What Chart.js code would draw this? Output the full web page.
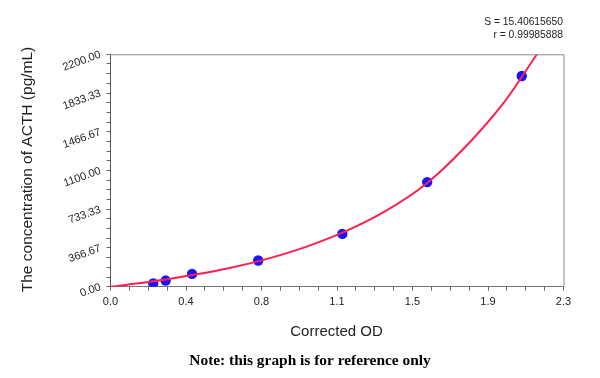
<!DOCTYPE html>
<html>
<head>
<meta charset="utf-8">
<script src="https://cdn.jsdelivr.net/npm/chart.js@4"></script>
<style>
  html, body { margin: 0; padding: 0; background: #fff; }
  #wrap { width: 600px; height: 378px; position: relative; }
</style>
</head>
<body>
<div id="wrap"><canvas id="c" width="600" height="378"></canvas></div>
<script>
// Standard points (Corrected OD vs concentration)
const standardOD = [0.217, 0.280, 0.414, 0.750, 1.177, 1.608, 2.088];
const standardConc = [30, 58, 121, 248, 500, 990, 1995];

// Fitted curve
const curveOD = [0, 0.2, 0.4, 0.6, 0.8, 1.0, 1.2, 1.4, 1.6, 1.8, 2.0, 2.165];
const curveConc = [0, 46, 106, 175, 266, 382, 530, 720, 970, 1320, 1750, 2200];

// Tick labels
const xTickLabels = ['0.0', '0.4', '0.8', '1.1', '1.5', '1.9', '2.3'];
const yTickLabels = ['0.00', '366.67', '733.33', '1100.00', '1466.67', '1833.33', '2200.00'];
const xMax = 2.3;
const yMax = 2200;
const minorPerMajor = 4;

const fitText = ['S = 15.40615650', 'r = 0.99985888'];
const xTitle = 'Corrected OD';
const yTitle = 'The concentration of ACTH (pg/mL)';
const note = 'Note: this graph is for reference only';

function makeTicks(max, labels) {
  const n = (labels.length - 1) * minorPerMajor;
  const out = [];
  for (let i = 0; i <= n; i++) out.push({ value: max * i / n });
  return out;
}

const textPlugin = {
  id: 'texts',
  afterDraw(chart) {
    const ctx = chart.ctx;
    const a = chart.chartArea;
    ctx.save();
    // plot frame (top & right)
    ctx.strokeStyle = '#8a8a8a';
    ctx.lineWidth = 1;
    ctx.beginPath();
    ctx.moveTo(a.left, a.top + 0.5);
    ctx.lineTo(a.right + 0.5, a.top + 0.5);
    ctx.lineTo(a.right + 0.5, a.bottom);
    ctx.stroke();

    ctx.fillStyle = '#222';
    ctx.font = '10.3px "Liberation Sans", Arial, sans-serif';
    ctx.textAlign = 'right';
    ctx.textBaseline = 'middle';
    ctx.fillText(fitText[0], 563, 22);
    ctx.fillText(fitText[1], 563, 35);

    ctx.font = '15px "Liberation Sans", Arial, sans-serif';
    ctx.textAlign = 'center';
    ctx.fillText(xTitle, 336.5, 331.5);

    ctx.save();
    ctx.translate(27.5, 169.5);
    ctx.rotate(-Math.PI / 2);
    ctx.font = '15.5px "Liberation Sans", Arial, sans-serif';
    ctx.fillText(yTitle, 0, 0);
    ctx.restore();

    ctx.fillStyle = '#000';
    ctx.font = 'bold 15.4px "Liberation Serif", "Times New Roman", serif';
    ctx.fillText(note, 310, 361.5);
    ctx.restore();
  }
};

new Chart(document.getElementById('c'), {
  type: 'scatter',
  data: {
    datasets: [
      {
        label: 'fit',
        data: curveOD.map((x, i) => ({ x, y: curveConc[i] })),
        showLine: true,
        borderColor: 'rgb(255, 30, 80)',
        borderWidth: 2,
        pointRadius: 0,
        cubicInterpolationMode: 'monotone',
        order: 0
      },
      {
        label: 'standards',
        data: standardOD.map((x, i) => ({ x, y: standardConc[i] })),
        backgroundColor: 'rgb(25, 20, 255)',
        borderWidth: 0,
        pointRadius: 5.2,
        order: 1
      }
    ]
  },
  options: {
    responsive: false,
    animation: false,
    events: [],
    layout: { padding: { top: 54.3, right: 36.5, left: 0, bottom: 0 } },
    plugins: { legend: { display: false }, tooltip: { enabled: false } },
    scales: {
      x: {
        type: 'linear',
        min: 0, max: xMax,
        afterBuildTicks: s => { s.ticks = makeTicks(xMax, xTickLabels); },
        afterFit: s => { s.height = 378 - 286.7; },
        grid: { drawOnChartArea: false, drawTicks: true, tickLength: 4, tickColor: '#666' },
        border: { display: true, color: '#777', width: 1 },
        ticks: {
          autoSkip: false, maxRotation: 0, minRotation: 0, padding: 5,
          color: '#222',
          font: { family: '"Liberation Sans", Arial, sans-serif', size: 11 },
          callback: (v, i) => (i % minorPerMajor === 0 ? xTickLabels[i / minorPerMajor] : '')
        }
      },
      y: {
        type: 'linear',
        min: 0, max: yMax,
        afterBuildTicks: s => { s.ticks = makeTicks(yMax, yTickLabels); },
        afterFit: s => { s.width = 110.5; },
        grid: { drawOnChartArea: false, drawTicks: true, tickLength: 4, tickColor: '#666' },
        border: { display: true, color: '#555', width: 1 },
        ticks: {
          autoSkip: false, minRotation: 20, maxRotation: 20, padding: 6,
          color: '#222',
          font: { family: '"Liberation Sans", Arial, sans-serif', size: 11 },
          callback: (v, i) => (i % minorPerMajor === 0 ? yTickLabels[i / minorPerMajor] : '')
        }
      }
    }
  },
  plugins: [textPlugin]
});
</script>
</body>
</html>
